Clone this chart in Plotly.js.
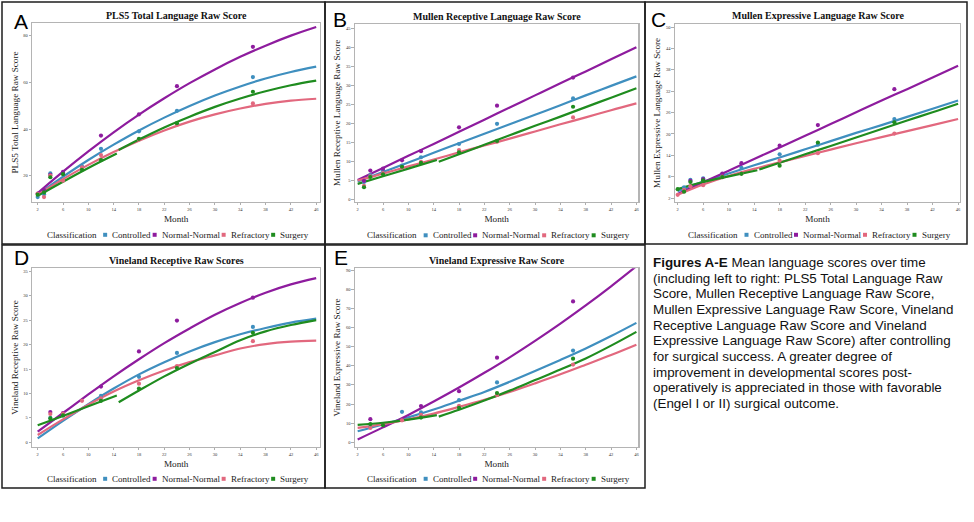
<!DOCTYPE html>
<html><head><meta charset="utf-8">
<script src="https://cdn.plot.ly/plotly-3.0.1.min.js"></script>
<style>html,body{margin:0;padding:0;background:#fff;overflow:hidden}#chart{width:974px;height:522px}</style>
</head><body><div id="chart"></div>
<script>
// ---------- data ----------
const categories = ['Controlled', 'Normal-Normal', 'Refractory', 'Surgery'];
const months = [2, 3, 4, 6, 9, 12, 18, 24, 36];
const fitMonths = [2, 6, 10, 14, 18, 22, 26, 30, 34, 38, 42, 46];
const surgPreMonths = [2, 6, 10, 14.5];
const surgPostMonths = [14.8, 18, 22, 26, 30, 34, 38, 42, 46];
const xTickVals = [2, 6, 10, 14, 18, 22, 26, 30, 34, 38, 42, 46];

// A: PLS5 Total Language Raw Score
const plsControlledMeans = [10.8, 12.0, 21.0, 21.2, 24.0, 31.5, 39.0, 47.8, 62.3];
const plsNormalMeans     = [12.3, 13.8, 20.3, 21.6, null, 37.2, 46.3, 58.4, 75.3];
const plsRefractoryMeans = [12.2, 10.8, 20.0, 17.8, 23.5, 28.8, 35.5, 41.8, 51.0];
const plsSurgeryMeans    = [11.8, 12.8, 19.3, 20.6, 22.5, 26.7, 35.8, 42.5, 56.0];
const plsControlledFit = [11.8, 19.5, 26.7, 33.3, 39.4, 44.9, 49.9, 54.4, 58.3, 61.7, 64.5, 66.8];
const plsNormalFit     = [12.5, 21.7, 30.4, 38.6, 46.2, 53.2, 59.7, 65.6, 71.0, 75.8, 80.1, 83.8];
const plsRefractoryFit = [11.8, 18.5, 24.6, 30.1, 35.0, 39.4, 43.2, 46.3, 48.8, 50.8, 52.2, 53.0];
const plsSurgeryPreFit  = [11.3, 17.4, 23.3, 29.5];
const plsSurgeryPostFit = [31.0, 35.5, 40.7, 45.3, 49.5, 53.1, 56.2, 58.8, 60.8];
const plsYTicks = [20, 40, 60, 80];

// B: Mullen Receptive Language Raw Score
const mrControlledMeans = [null, 4.5, 6.3, 7.5, 8.8, 11.0, 14.5, 19.8, 26.5];
const mrNormalMeans     = [null, 4.8, 7.5, 8.0, 10.2, 12.6, 18.9, 24.6, 32.0];
const mrRefractoryMeans = [null, 3.5, 6.0, 6.8, 8.3, 9.8, 12.9, 15.1, 21.5];
const mrSurgeryMeans    = [null, 3.1, 5.8, 6.5, 8.5, 9.5, 12.3, 15.3, 24.3];
const mrControlledFit = [4.6, 7.1, 9.6, 12.2, 14.7, 17.2, 19.7, 22.2, 24.7, 27.3, 29.8, 32.3];
const mrNormalFit     = [5.0, 8.2, 11.4, 14.5, 17.7, 20.9, 24.1, 27.3, 30.5, 33.6, 36.8, 40.0];
const mrRefractoryFit = [4.9, 6.7, 8.6, 10.4, 12.3, 14.1, 15.9, 17.8, 19.7, 21.5, 23.4, 25.2];
const mrSurgeryPreFit  = [4.0, 6.0, 8.0, 10.3];
const mrSurgeryPostFit = [9.8, 11.8, 14.3, 16.8, 19.3, 21.7, 24.2, 26.7, 29.2];
const mrYTicks = [0, 5, 10, 15, 20, 25, 30, 35, 40, 45];

// C: Mullen Expressive Language Raw Score
const meControlledMeans = [null, 5.0, 7.1, 7.5, 8.5, 10.5, 14.3, 17.0, 24.2];
const meNormalMeans     = [null, 4.1, 6.8, 7.3, 8.9, 11.8, 16.7, 22.5, 32.6];
const meRefractoryMeans = [2.9, 4.3, 5.3, 5.6, 8.0, 8.9, 12.5, 14.6, 20.1];
const meSurgeryMeans    = [4.5, 3.8, 6.5, 7.0, 7.9, 8.8, 11.1, 17.6, 23.3];
const meControlledFit = [3.9, 6.6, 8.9, 11.2, 13.4, 15.7, 18.0, 20.3, 22.5, 24.8, 27.1, 29.4];
const meNormalFit     = [3.1, 6.4, 9.7, 13.0, 16.2, 19.5, 22.8, 26.1, 29.4, 32.6, 35.9, 39.2];
const meRefractoryFit = [2.9, 5.8, 8.2, 10.2, 12.0, 13.8, 15.6, 17.4, 19.1, 20.8, 22.5, 24.2];
const meSurgeryPreFit  = [4.5, 6.5, 8.1, 9.8];
const meSurgeryPostFit = [10.0, 11.9, 14.3, 16.6, 19.0, 21.4, 23.8, 26.1, 28.5];
const meYTicks = [2, 8, 14, 20, 26, 32, 38, 44, 50];

// D: Vineland Receptive Raw Scores
const vrControlledMeans = [null, null, 5.0, 5.5, null, 9.5, 13.4, 18.3, 23.6];
const vrNormalMeans     = [null, null, 6.2, 6.0, null, 11.4, 18.6, 24.9, 29.6];
const vrRefractoryMeans = [null, null, 5.8, 5.9, 8.5, 9.0, 12.0, 15.6, 20.7];
const vrSurgeryMeans    = [null, null, 4.9, 5.5, null, 8.5, 11.0, 15.2, 22.4];
const vrControlledFit = [0.8, 4.4, 7.8, 11.0, 13.9, 16.4, 18.6, 20.5, 22.1, 23.4, 24.5, 25.3];
const vrNormalFit     = [2.2, 6.0, 9.8, 13.5, 17.0, 20.3, 23.3, 26.1, 28.5, 30.6, 32.3, 33.6];
const vrRefractoryFit = [1.5, 4.7, 7.7, 10.4, 12.7, 14.7, 16.4, 17.8, 19.2, 20.1, 20.6, 20.8];
const vrSurgeryPreFit  = [3.5, 5.4, 7.4, 9.6];
const vrSurgeryPostFit = [8.2, 10.6, 13.5, 16.1, 18.5, 20.9, 22.7, 24.0, 25.0];
const vrYTicks = [0, 5, 10, 15, 20, 25, 30, 35];

// E: Vineland Expressive Raw Score
const veControlledMeans = [null, null, 8.0, null, 15.9, 15.6, 22.0, 31.3, 47.9];
const veNormalMeans     = [null, null, 12.1, null, null, 18.9, 26.7, 44.2, 73.6];
const veRefractoryMeans = [null, null, 7.5, null, 11.5, 14.3, 19.1, 24.7, 40.6];
const veSurgeryMeans    = [null, null, 9.5, 8.9, null, 12.9, 18.0, 25.7, 43.7];
const veControlledFit = [5.8, 9.3, 13.0, 17.1, 21.7, 26.3, 31.6, 37.2, 43.0, 49.0, 55.5, 62.4];
const veNormalFit     = [1.5, 7.8, 14.3, 21.3, 28.6, 36.3, 44.4, 53.0, 62.0, 71.5, 81.5, 92.0];
const veRefractoryFit = [7.5, 9.5, 12.0, 15.0, 18.5, 22.2, 26.3, 30.8, 35.5, 40.5, 45.6, 51.0];
const veSurgeryPreFit  = [9.1, 10.2, 11.8, 14.2];
const veSurgeryPostFit = [13.4, 17.0, 21.8, 27.0, 32.5, 38.0, 43.8, 50.5, 57.7];
const veYTicks = [0, 10, 20, 30, 40, 50, 60, 70, 80, 90];

const captionLines = [
  '<b>Figures A-E</b> Mean language scores over time',
  '(including left to right: PLS5 Total Language Raw',
  'Score, Mullen Receptive Language Raw Score,',
  'Mullen Expressive Language Raw Score, Vineland',
  'Receptive Language Raw Score and Vineland',
  'Expressive Language Raw Score) after controlling',
  'for surgical success. A greater degree of',
  'improvement in developmental scores post-',
  'operatively is appreciated in those with favorable',
  '(Engel I or II) surgical outcome.'
];

// ---------- styling / layout ----------
const W = 974, H = 522;
const colors = ['#3f8fbf', '#8e1c9e', '#e2687e', '#1f8c1f'];
const SERIF = 'Liberation Serif, Times New Roman, serif';
const SANS = 'Liberation Sans, Arial, sans-serif';
const px = v => v / W;
const py = v => 1 - v / H;

const panels = [
  {id: '', letter: 'A', title: 'PLS5 Total Language Raw Score', ytitle: 'PLS5 Total Language Raw Score',
   box: [2, 2, 325, 244], plot: [32.3, 23.3, 320, 201.7], xr: [1.15, 46.6], yr: [8.8, 85.4], yt: plsYTicks,
   means: [plsControlledMeans, plsNormalMeans, plsRefractoryMeans, plsSurgeryMeans],
   fits: [plsControlledFit, plsNormalFit, plsRefractoryFit], pre: plsSurgeryPreFit, post: plsSurgeryPostFit,
   letterPos: [20.5, 21.5], titleY: 15.7, legendY: 234.5},
  {id: '2', letter: 'B', title: 'Mullen Receptive Language Raw Score', ytitle: 'Mullen Receptive Language Raw Score',
   box: [325, 2, 645, 244], plot: [355, 24, 638.3, 201.7], xr: [1.58, 46.3], yr: [-0.7, 46.1], yt: mrYTicks,
   means: [mrControlledMeans, mrNormalMeans, mrRefractoryMeans, mrSurgeryMeans],
   fits: [mrControlledFit, mrNormalFit, mrRefractoryFit], pre: mrSurgeryPreFit, post: mrSurgeryPostFit,
   letterPos: [340, 19.5], titleY: 16.5, legendY: 235},
  {id: '3', letter: 'C', title: 'Mullen Expressive Language Raw Score', ytitle: 'Mullen Expressive Language Raw Score',
   box: [645, 2, 967, 244], plot: [675, 24, 960, 201.7], xr: [1.58, 46.3], yr: [0.97, 50.9], yt: meYTicks,
   means: [meControlledMeans, meNormalMeans, meRefractoryMeans, meSurgeryMeans],
   fits: [meControlledFit, meNormalFit, meRefractoryFit], pre: meSurgeryPreFit, post: meSurgeryPostFit,
   letterPos: [658, 19.5], titleY: 15.7, legendY: 234.5},
  {id: '4', letter: 'D', title: 'Vineland Receptive Raw Scores', ytitle: 'Vineland Receptive Raw Score',
   box: [2, 245, 325, 488], plot: [32.3, 268.3, 320, 446.7], xr: [1.15, 46.6], yr: [-0.89, 35.6], yt: vrYTicks,
   means: [vrControlledMeans, vrNormalMeans, vrRefractoryMeans, vrSurgeryMeans],
   fits: [vrControlledFit, vrNormalFit, vrRefractoryFit], pre: vrSurgeryPreFit, post: vrSurgeryPostFit,
   letterPos: [21.7, 257.5], titleY: 260, legendY: 478.5},
  {id: '5', letter: 'E', title: 'Vineland Expressive Raw Score', ytitle: 'Vineland Expressive Raw Score',
   box: [325, 245, 645, 488], plot: [355, 268.3, 638.3, 446.7], xr: [1.58, 46.3], yr: [-2.3, 90.9], yt: veYTicks,
   means: [veControlledMeans, veNormalMeans, veRefractoryMeans, veSurgeryMeans],
   fits: [veControlledFit, veNormalFit, veRefractoryFit], pre: veSurgeryPreFit, post: veSurgeryPostFit,
   letterPos: [340.5, 257.5], titleY: 260, legendY: 478.5}
];

const traces = [];
const layout = {
  width: W, height: H, margin: {l: 0, r: 0, t: 0, b: 0},
  paper_bgcolor: '#ffffff', plot_bgcolor: '#ffffff', showlegend: false,
  annotations: [], shapes: []
};

const axisBase = {
  showline: true, mirror: true, linecolor: '#b4b4b4', linewidth: 1.2,
  ticks: 'outside', ticklen: 2.5, tickwidth: 0.8, tickcolor: '#9a9a9a',
  tickfont: {family: SERIF, size: 4.5, color: '#333333'},
  showgrid: false, zeroline: false, automargin: false, fixedrange: true
};

panels.forEach(p => {
  const xa = 'x' + p.id, ya = 'y' + p.id;
  const cx = (p.plot[0] + p.plot[2]) / 2;

  layout['xaxis' + p.id] = Object.assign({}, axisBase, {
    domain: [px(p.plot[0]), px(p.plot[2])], range: p.xr, anchor: ya,
    tickvals: xTickVals,
    title: {text: 'Month', font: {family: SERIF, size: 9.2, color: '#222'}, standoff: 4}
  });
  layout['yaxis' + p.id] = Object.assign({}, axisBase, {
    domain: [py(p.plot[3]), py(p.plot[1])], range: p.yr, anchor: xa,
    tickvals: p.yt,
    title: {text: p.ytitle, font: {family: SERIF, size: 9.2, color: '#222'}, standoff: 3}
  });

  // fitted curves
  p.fits.forEach((f, i) => {
    traces.push({type: 'scatter', mode: 'lines', x: fitMonths, y: f, xaxis: xa, yaxis: ya,
      name: categories[i], line: {color: colors[i], width: 2.2, shape: 'spline'}, hoverinfo: 'skip'});
  });
  traces.push({type: 'scatter', mode: 'lines', x: surgPreMonths, y: p.pre, xaxis: xa, yaxis: ya,
    name: categories[3], line: {color: colors[3], width: 2.2, shape: 'spline'}, hoverinfo: 'skip'});
  traces.push({type: 'scatter', mode: 'lines', x: surgPostMonths, y: p.post, xaxis: xa, yaxis: ya,
    name: categories[3], line: {color: colors[3], width: 2.2, shape: 'spline'}, hoverinfo: 'skip'});
  // observed means
  p.means.forEach((m, i) => {
    traces.push({type: 'scatter', mode: 'markers', x: months, y: m, xaxis: xa, yaxis: ya,
      name: categories[i], marker: {color: colors[i], size: 4.2, symbol: 'circle', line: {width: 0}}});
  });

  // panel border
  layout.shapes.push({type: 'rect', xref: 'paper', yref: 'paper',
    x0: px(p.box[0]), x1: px(p.box[2]), y0: py(p.box[3]), y1: py(p.box[1]),
    line: {color: '#1e1e1e', width: 1.5}, fillcolor: 'rgba(0,0,0,0)'});

  // panel letter
  layout.annotations.push({xref: 'paper', yref: 'paper', x: px(p.letterPos[0]), y: py(p.letterPos[1]),
    xanchor: 'center', yanchor: 'middle', showarrow: false, text: p.letter,
    font: {family: SANS, size: 21, color: '#000'}});
  // panel title
  layout.annotations.push({xref: 'paper', yref: 'paper', x: px(cx), y: py(p.titleY),
    xanchor: 'center', yanchor: 'middle', showarrow: false, text: '<b>' + p.title + '</b>',
    font: {family: SERIF, size: 10, color: '#111'}});

  // legend row: Classification + 4 categories
  const x0 = cx - 131.5;
  const lf = {family: SERIF, size: 9, color: '#222'};
  layout.annotations.push({xref: 'paper', yref: 'paper', x: px(x0), y: py(p.legendY),
    xanchor: 'left', yanchor: 'middle', showarrow: false, text: 'Classification', font: lf});
  const sq = [58.5, 108, 177, 226.5];
  const lab = [65.5, 115, 184, 233.5];
  categories.forEach((c, i) => {
    layout.shapes.push({type: 'rect', xref: 'paper', yref: 'paper',
      x0: px(x0 + sq[i]), x1: px(x0 + sq[i] + 4), y0: py(p.legendY + 2.3), y1: py(p.legendY - 1.7),
      line: {width: 0}, fillcolor: colors[i]});
    layout.annotations.push({xref: 'paper', yref: 'paper', x: px(x0 + lab[i]), y: py(p.legendY),
      xanchor: 'left', yanchor: 'middle', showarrow: false, text: c, font: lf});
  });
});

// caption
captionLines.forEach((t, i) => {
  layout.annotations.push({xref: 'paper', yref: 'paper', x: px(651), y: py(262.5 + i * 15.65),
    xanchor: 'left', yanchor: 'middle', showarrow: false, text: t,
    font: {family: SANS, size: 13.4, color: '#111'}});
});

Plotly.newPlot('chart', traces, layout, {staticPlot: true, displayModeBar: false});
</script></body></html>
